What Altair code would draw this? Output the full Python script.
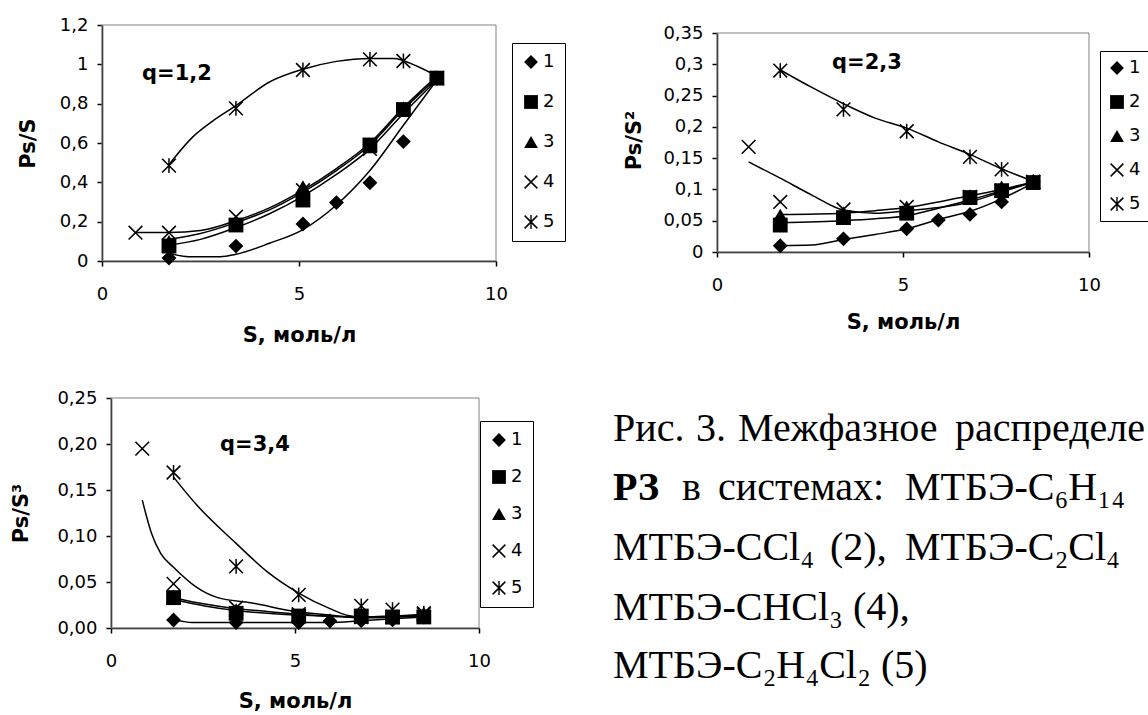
import altair as alt
import pandas as pd

SANS = "DejaVu Sans"
SERIF = "Liberation Serif"
W, H = 1148, 715
SERIES = ["1", "2", "3", "4", "5"]
X_TICKS = [0, 5, 10]
X_TITLE = "S, моль/л"

# ---------------- Panel 1: q=1,2 (Ps/S) ----------------
P1_Y_TICKS = [0, 0.2, 0.4, 0.6, 0.8, 1.0, 1.2]
P1_PT_S1 = [1.7, 3.4, 5.1, 5.95, 6.8, 7.65, 8.5]
P1_PT_V1 = [0.015, 0.076, 0.188, 0.297, 0.398, 0.607, 0.93]
P1_PT_S2 = [1.7, 3.4, 5.1, 6.8, 7.65, 8.5]
P1_PT_V2 = [0.076, 0.183, 0.31, 0.59, 0.77, 0.93]
P1_PT_S3 = [1.7, 3.4, 5.1, 6.8, 7.65, 8.5]
P1_PT_V3 = [0.10, 0.20, 0.378, 0.58, 0.78, 0.93]
P1_PT_S4 = [0.85, 1.7, 3.4, 5.1, 6.8, 7.65, 8.5]
P1_PT_V4 = [0.144, 0.144, 0.225, 0.36, 0.57, 0.77, 0.93]
P1_PT_S5 = [1.7, 3.4, 5.1, 6.8, 7.65, 8.5]
P1_PT_V5 = [0.485, 0.776, 0.971, 1.025, 1.017, 0.93]
P1_LN_S1 = [1.7, 2.2, 3.0, 3.4, 4.25, 5.1, 5.95, 6.8, 7.65, 8.5]
P1_LN_V1 = [0.04, 0.022, 0.022, 0.034, 0.09, 0.16, 0.285, 0.46, 0.69, 0.92]
P1_LN_S2 = [1.7, 2.5, 3.4, 4.25, 5.1, 5.95, 6.8, 7.65, 8.5]
P1_LN_V2 = [0.08, 0.11, 0.17, 0.24, 0.33, 0.44, 0.57, 0.75, 0.92]
P1_LN_S3 = [1.7, 2.5, 3.4, 4.25, 5.1, 5.95, 6.8, 7.65, 8.5]
P1_LN_V3 = [0.11, 0.14, 0.195, 0.26, 0.35, 0.46, 0.59, 0.77, 0.93]
P1_LN_S4 = [0.85, 1.7, 2.5, 3.4, 4.25, 5.1, 5.95, 6.8, 7.65, 8.5]
P1_LN_V4 = [0.145, 0.145, 0.155, 0.205, 0.27, 0.36, 0.47, 0.60, 0.78, 0.94]
P1_LN_S5 = [1.7, 2.3, 2.8, 3.4, 4.25, 5.1, 5.95, 6.8, 7.4, 8.0, 8.5]
P1_LN_V5 = [0.49, 0.63, 0.71, 0.79, 0.91, 0.975, 1.015, 1.03, 1.03, 0.99, 0.94]

# ---------------- Panel 2: q=2,3 (Ps/S^2) ----------------
P2_Y_TICKS = [0, 0.05, 0.1, 0.15, 0.2, 0.25, 0.3, 0.35]
P2_PT_S1 = [1.7, 3.4, 5.1, 5.95, 6.8, 7.65, 8.5]
P2_PT_V1 = [0.010, 0.021, 0.037, 0.051, 0.060, 0.080, 0.112]
P2_PT_S2 = [1.7, 3.4, 5.1, 6.8, 7.65, 8.5]
P2_PT_V2 = [0.043, 0.055, 0.062, 0.087, 0.098, 0.111]
P2_PT_S3 = [1.7, 3.4, 5.1, 6.8, 7.65, 8.5]
P2_PT_V3 = [0.059, 0.063, 0.072, 0.090, 0.104, 0.112]
P2_PT_S4 = [0.85, 1.7, 3.4, 5.1, 6.8, 7.65, 8.5]
P2_PT_V4 = [0.168, 0.080, 0.068, 0.072, 0.088, 0.098, 0.112]
P2_PT_S5 = [1.7, 3.4, 5.1, 6.8, 7.65, 8.5]
P2_PT_V5 = [0.290, 0.228, 0.193, 0.152, 0.132, 0.112]
P2_LN_S1 = [1.7, 2.55, 3.4, 4.25, 5.1, 5.95, 6.8, 7.65, 8.5]
P2_LN_V1 = [0.010, 0.011, 0.020, 0.028, 0.037, 0.052, 0.065, 0.085, 0.110]
P2_LN_S2 = [1.7, 3.4, 4.25, 5.1, 5.95, 6.8, 7.65, 8.5]
P2_LN_V2 = [0.047, 0.050, 0.053, 0.058, 0.070, 0.083, 0.098, 0.111]
P2_LN_S3 = [1.7, 3.4, 4.25, 5.1, 5.95, 6.8, 7.65, 8.5]
P2_LN_V3 = [0.060, 0.062, 0.066, 0.071, 0.080, 0.090, 0.100, 0.112]
P2_LN_S4 = [0.85, 1.7, 2.55, 3.4, 4.25, 5.1, 6.8, 7.65, 8.5]
P2_LN_V4 = [0.144, 0.118, 0.091, 0.067, 0.062, 0.066, 0.080, 0.096, 0.112]
P2_LN_S5 = [1.7, 2.55, 3.4, 4.25, 5.1, 5.95, 6.8, 7.65, 8.5]
P2_LN_V5 = [0.291, 0.263, 0.237, 0.214, 0.198, 0.176, 0.156, 0.133, 0.113]

# ---------------- Panel 3: q=3,4 (Ps/S^3) ----------------
P3_Y_TICKS = [0, 0.05, 0.10, 0.15, 0.20, 0.25]
P3_PT_S1 = [1.7, 3.4, 5.1, 5.95, 6.8, 7.65, 8.5]
P3_PT_V1 = [0.0087, 0.006, 0.006, 0.0076, 0.008, 0.009, 0.012]
P3_PT_S2 = [1.7, 3.4, 5.1, 6.8, 7.65, 8.5]
P3_PT_V2 = [0.033, 0.016, 0.013, 0.013, 0.012, 0.012]
P3_PT_S3 = [1.7, 3.4, 5.1, 6.8, 7.65, 8.5]
P3_PT_V3 = [0.035, 0.020, 0.014, 0.012, 0.011, 0.016]
P3_PT_S4 = [0.85, 1.7, 3.4, 5.1, 6.8, 7.65, 8.5]
P3_PT_V4 = [0.195, 0.048, 0.022, 0.015, 0.012, 0.012, 0.015]
P3_PT_S5 = [1.7, 3.4, 5.1, 6.8, 7.65, 8.5]
P3_PT_V5 = [0.169, 0.067, 0.036, 0.024, 0.020, 0.016]
P3_LN_S1 = [1.7, 2.2, 5.95, 6.8, 8.5]
P3_LN_V1 = [0.0094, 0.006, 0.006, 0.008, 0.012]
P3_LN_S2 = [1.7, 2.55, 3.4, 4.25, 5.1, 6.8, 8.5]
P3_LN_V2 = [0.031, 0.024, 0.019, 0.016, 0.014, 0.012, 0.013]
P3_LN_S3 = [1.7, 2.55, 3.4, 4.25, 5.1, 6.8, 8.5]
P3_LN_V3 = [0.033, 0.026, 0.021, 0.018, 0.015, 0.012, 0.014]
P3_LN_S4 = [0.85, 1.1, 1.35, 1.7, 2.3, 2.9, 3.8, 5.0, 5.95, 6.8, 8.5]
P3_LN_V4 = [0.139, 0.103, 0.081, 0.066, 0.045, 0.033, 0.0275, 0.018, 0.014, 0.011, 0.013]
P3_LN_S5 = [1.7, 2.3, 3.4, 4.25, 5.1, 5.95, 6.4, 6.8, 8.5]
P3_LN_V5 = [0.164, 0.135, 0.092, 0.061, 0.038, 0.021, 0.014, 0.012, 0.015]

# ---------------- Caption ----------------
CAP_L1 = ["Рис.", "3.", "Межфазное", "распределе"]
CAP_L2_BOLD = "РЗ"
CAP_L2 = ["в", "системах:", "МТБЭ-C₆H₁₄"]
CAP_L3 = ["МТБЭ-CCl₄", "(2),", "МТБЭ-C₂Cl₄"]
CAP_L4 = "МТБЭ-CHCl₃ (4),"
CAP_L5 = "МТБЭ-C₂H₄Cl₂ (5)"

# symbol shapes (filled outlines for the cross and asterisk)
X_PATH = ("M -1 -0.85 L -0.85 -1 L 1 0.85 L 0.85 1 Z "
          "M 1 -0.85 L -0.85 1 L -1 0.85 L 0.85 -1 Z")
STAR_PATH = X_PATH + " M -0.1 -1 L 0.1 -1 L 0.1 1 L -0.1 1 Z"
SHAPES = ["diamond", "square", "triangle-up", X_PATH, STAR_PATH]


def table(xs_list, ys_list):
    rows = []
    for name, xs, ys in zip(SERIES, xs_list, ys_list):
        for x, y in zip(xs, ys):
            rows.append({"series": name, "S": x, "v": y})
    return pd.DataFrame(rows)


AX = dict(grid=False, domainColor="black", domainWidth=1.5, tickColor="black",
          tickWidth=1.5, tickSize=5, labelFont=SANS, labelFontSize=18,
          labelColor="black", titleFont=SANS, titleFontSize=21,
          titleFontWeight="bold", titleColor="black", labelFlush=False,
          labelOverlap=False, titleAlign="center", titleBaseline="middle")


def text_layer(txt, x, y, font, size, weight="normal", align="left", baseline="middle"):
    return alt.Chart(pd.DataFrame({"t": [txt]})).mark_text(
        align=align, baseline=baseline, font=font, fontSize=size,
        fontWeight=weight, color="black"
    ).encode(x=alt.value(x), y=alt.value(y), text="t:N")


def panel(pts, lines, y_ticks, y_max, y_fmt, y_title, xr, yr, ytitle_xy,
          xtitle_y, lx, ly, lpad, lrow):
    xscale = alt.Scale(domain=[0, 10], range=xr, nice=False, zero=False)
    yscale = alt.Scale(domain=[0, y_max], range=yr, nice=False)
    xenc = alt.X("S:Q", scale=xscale,
                 axis=alt.Axis(orient="bottom", offset=yr[0] - H, values=X_TICKS,
                               labelExpr="format(datum.value, '~g')",
                               title=X_TITLE, titleX=(xr[0] + xr[1]) / 2,
                               titleY=xtitle_y, labelPadding=19, **AX))
    yenc = alt.Y("v:Q", scale=yscale,
                 axis=alt.Axis(orient="left", offset=-xr[0], values=y_ticks,
                               labelExpr=y_fmt, title=y_title,
                               titleX=ytitle_xy[0] - xr[0], titleY=ytitle_xy[1],
                               titleAngle=270, labelPadding=9, **AX))
    frame = alt.Chart(pd.DataFrame({"a": [0]})).mark_rect(
        fillOpacity=0, stroke="#808080", strokeWidth=1
    ).encode(x=alt.X(datum=0, scale=xscale), x2=alt.X2(datum=10),
             y=alt.Y(datum=0, scale=yscale), y2=alt.Y2(datum=y_max))
    ln = alt.Chart(lines).mark_line(color="black", strokeWidth=1.5,
                                    interpolate="monotone").encode(
        x=xenc, y=yenc, detail="series:N")
    pt = alt.Chart(pts).mark_point(filled=True, color="black", opacity=1,
                                   size=220).encode(
        x=xenc, y=yenc,
        shape=alt.Shape("series:N", scale=alt.Scale(domain=SERIES, range=SHAPES),
                        legend=alt.Legend(title=None, orient="none", legendX=lx,
                                          legendY=ly, strokeColor="black",
                                          fillColor="white", padding=lpad,
                                          rowPadding=lrow, labelFont=SANS,
                                          labelFontSize=18, labelColor="black",
                                          symbolSize=190, symbolFillColor="black",
                                          symbolStrokeColor="black",
                                          symbolStrokeWidth=0, symbolOpacity=1,
                                          labelOffset=3, cornerRadius=0)))
    return alt.layer(frame, ln, pt)


FMT_G = "replace(format(datum.value, '~g'), '.', ',')"
FMT_2 = "replace(format(datum.value, '.2f'), '.', ',')"

p1 = panel(table([P1_PT_S1, P1_PT_S2, P1_PT_S3, P1_PT_S4, P1_PT_S5],
                 [P1_PT_V1, P1_PT_V2, P1_PT_V3, P1_PT_V4, P1_PT_V5]),
           table([P1_LN_S1, P1_LN_S2, P1_LN_S3, P1_LN_S4, P1_LN_S5],
                 [P1_LN_V1, P1_LN_V2, P1_LN_V3, P1_LN_V4, P1_LN_V5]),
           P1_Y_TICKS, 1.2, FMT_G, "Ps/S", [102, 496], [261, 25], (28, 143), 74,
           512, 43, 10, 22)

p2 = panel(table([P2_PT_S1, P2_PT_S2, P2_PT_S3, P2_PT_S4, P2_PT_S5],
                 [P2_PT_V1, P2_PT_V2, P2_PT_V3, P2_PT_V4, P2_PT_V5]),
           table([P2_LN_S1, P2_LN_S2, P2_LN_S3, P2_LN_S4, P2_LN_S5],
                 [P2_LN_V1, P2_LN_V2, P2_LN_V3, P2_LN_V4, P2_LN_V5]),
           P2_Y_TICKS, 0.35, FMT_G, "Ps/S²", [717, 1089], [252, 33], (634, 140), 70,
           1100, 51, 8, 16)

p3 = panel(table([P3_PT_S1, P3_PT_S2, P3_PT_S3, P3_PT_S4, P3_PT_S5],
                 [P3_PT_V1, P3_PT_V2, P3_PT_V3, P3_PT_V4, P3_PT_V5]),
           table([P3_LN_S1, P3_LN_S2, P3_LN_S3, P3_LN_S4, P3_LN_S5],
                 [P3_LN_V1, P3_LN_V2, P3_LN_V3, P3_LN_V4, P3_LN_V5]),
           P3_Y_TICKS, 0.25, FMT_2, "Ps/S³", [111, 479], [628, 398], (21, 513), 73,
           480, 421, 10, 19)

texts = [
    text_layer("q=1,2", 142, 74, SANS, 21, "bold"),
    text_layer("q=2,3", 832, 63, SANS, 21, "bold"),
    text_layer("q=3,4", 220, 445, SANS, 21, "bold"),
]
CX = 613
for word, x in zip(CAP_L1, [CX, 696, 738, 955]):
    texts.append(text_layer(word, x, 441, SERIF, 40, baseline="alphabetic"))
texts.append(text_layer(CAP_L2_BOLD, CX, 500, SERIF, 40, "bold", baseline="alphabetic"))
for word, x in zip(CAP_L2, [682, 718, 905]):
    texts.append(text_layer(word, x, 500, SERIF, 40, baseline="alphabetic"))
for word, x in zip(CAP_L3, [CX, 830, 905]):
    texts.append(text_layer(word, x, 560, SERIF, 40, baseline="alphabetic"))
texts.append(text_layer(CAP_L4, CX, 620, SERIF, 40, baseline="alphabetic"))
texts.append(text_layer(CAP_L5, CX, 678, SERIF, 40, baseline="alphabetic"))

chart = alt.layer(p1, p2, p3, *texts).resolve_scale(
    x="independent", y="independent", shape="independent"
).resolve_axis(x="independent", y="independent").resolve_legend(
    shape="independent"
).properties(
    width=W, height=H, padding=0, background="white",
    autosize=alt.AutoSizeParams(type="none")
).configure_view(stroke=None)

chart.save("out.html", embed_options={"renderer": "svg", "actions": False})
